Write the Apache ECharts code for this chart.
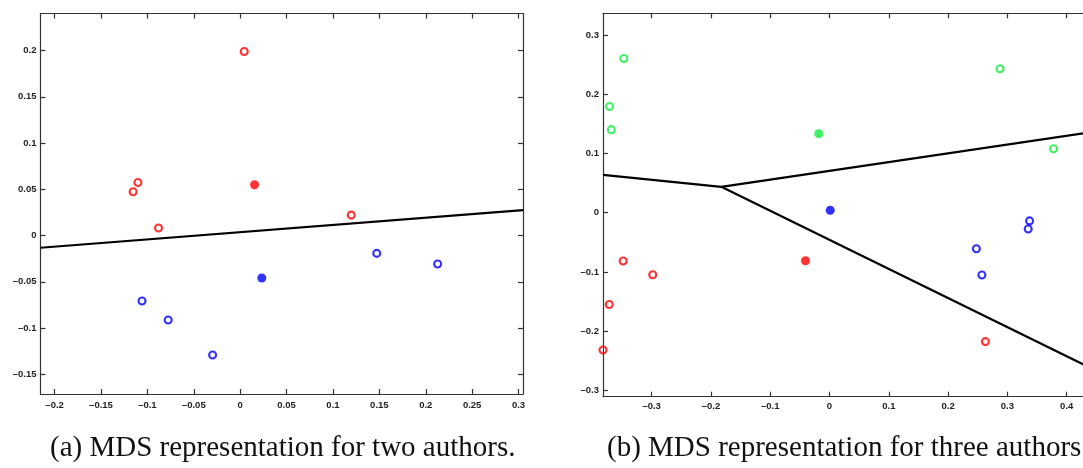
<!DOCTYPE html>
<html><head><meta charset="utf-8">
<script src="https://cdn.jsdelivr.net/npm/echarts@6/dist/echarts.min.js"></script>
<style>html,body{margin:0;padding:0;background:#fff}#c{width:1083px;height:468px}</style>
</head><body><div id="c"></div>
<script>
// ---------- Panel (a): two authors ----------
const aRedOpen = [[0.0044,0.1989],[-0.1102,0.0574],[-0.1154,0.0473],[-0.0880,0.0081],[0.1197,0.0221]];
const aRedCenter = [[0.0155,0.0549]];
const aBlueOpen = [[0.1472,-0.0193],[0.2128,-0.0308],[-0.1058,-0.0708],[-0.0776,-0.0913],[-0.0297,-0.1291]];
const aBlueCenter = [[0.0233,-0.0459]];
const aBoundary = [[-0.2152,-0.0132],[0.3048,0.0275]];
const aXRange = [-0.2152, 0.3048];
const aYRange = [-0.1713, 0.2400];
const aXTicks = [-0.2,-0.15,-0.1,-0.05,0,0.05,0.1,0.15,0.2,0.25,0.3];
const aYTicks = [-0.15,-0.1,-0.05,0,0.05,0.1,0.15,0.2];
// ---------- Panel (b): three authors ----------
const bGreenOpen = [[-0.3468,0.2604],[-0.3709,0.1792],[-0.3680,0.1402],[0.2876,0.2429],[0.3779,0.1081]];
const bGreenCenter = [[-0.0182,0.1335]];
const bBlueOpen = [[0.3374,-0.0138],[0.3351,-0.0274],[0.2477,-0.0607],[0.2570,-0.1052]];
const bBlueCenter = [[0.0012,0.0042]];
const bRedOpen = [[-0.3480,-0.0815],[-0.2981,-0.1046],[-0.3715,-0.1549],[-0.3820,-0.2317],[0.2629,-0.2175]];
const bRedCenter = [[-0.0405,-0.0810]];
const bBoundaryLeft = [[-0.3820,0.0640],[-0.1825,0.0437]];
const bBoundaryUpper = [[-0.1825,0.0437],[0.5,0.1447]];
const bBoundaryLower = [[-0.1825,0.0437],[0.5,-0.2914]];
const bXRange = [-0.3820, 0.5];
const bYRange = [-0.3105, 0.3366];
const bXTicks = [-0.3,-0.2,-0.1,0,0.1,0.2,0.3,0.4,0.5];
const bYTicks = [-0.3,-0.2,-0.1,0,0.1,0.2,0.3];
// ---------- Captions ----------
const captionA = '(a) MDS representation for two authors.';
const captionB = '(b) MDS representation for three authors.';

const RED = '#ff0000', BLUE = '#0000ff', GREEN = '#10ee40';

function fmt(v){ const r = Math.round(v*1000)/1000; return r < 0 ? '\u2013' + String(-r) : String(r); }
const labelStyle = { fontSize: 9.5, fontWeight: 'bold', color: '#222', fontFamily: 'Liberation Sans, Arial, sans-serif' };
const lineStyle = { color: '#333', width: 1.2 };

function xAxes(grid, range, ticks, margin){
  return [
    { type:'value', gridIndex:grid, position:'bottom', min:range[0], max:range[1],
      axisLine:{show:true, onZero:false, lineStyle}, splitLine:{show:false},
      axisTick:{show:true, inside:true, length:5, customValues:ticks, lineStyle},
      axisLabel:Object.assign({show:true, margin, customValues:ticks, formatter:fmt, showMinLabel:true, showMaxLabel:true}, labelStyle) },
    { type:'value', gridIndex:grid, position:'top', min:range[0], max:range[1],
      axisLine:{show:true, onZero:false, lineStyle}, splitLine:{show:false},
      axisTick:{show:true, inside:true, length:5, customValues:ticks, lineStyle},
      axisLabel:{show:false} }
  ];
}
function yAxes(grid, range, ticks, margin){
  return [
    { type:'value', gridIndex:grid, position:'left', min:range[0], max:range[1],
      axisLine:{show:true, onZero:false, lineStyle}, splitLine:{show:false},
      axisTick:{show:true, inside:true, length:5, customValues:ticks, lineStyle},
      axisLabel:Object.assign({show:true, margin, customValues:ticks, formatter:fmt}, labelStyle) },
    { type:'value', gridIndex:grid, position:'right', min:range[0], max:range[1],
      axisLine:{show:true, onZero:false, lineStyle}, splitLine:{show:false},
      axisTick:{show:true, inside:true, length:5, customValues:ticks, lineStyle},
      axisLabel:{show:false} }
  ];
}

function openPts(data, color, xi, yi){
  return { type:'scatter', data, xAxisIndex:xi, yAxisIndex:yi, symbol:'circle', symbolSize:7,
    itemStyle:{ color:'rgba(255,255,255,0)', borderColor:color, borderWidth:2.1 }, clip:false, z:3 };
}
function filledPts(data, color, xi, yi){
  return { type:'scatter', data, xAxisIndex:xi, yAxisIndex:yi, symbol:'circle', symbolSize:9,
    itemStyle:{ color, borderWidth:0 }, clip:false, z:3 };
}
function boundary(data, xi, yi){
  return { type:'line', data, xAxisIndex:xi, yAxisIndex:yi, showSymbol:false, symbol:'none',
    lineStyle:{ color:'#000', width:2.2 }, z:2, silent:true };
}

const chart = echarts.init(document.getElementById('c'), null, {renderer:'canvas'});
chart.setOption({
  animation:false,
  backgroundColor:'#fff',
  grid:[
    { left:40.5, top:13.5, width:482.5, height:380.5, containLabel:false, outerBoundsMode:'none' },
    { left:603, top:13.3, width:523, height:383.4, containLabel:false, outerBoundsMode:'none' }
  ],
  xAxis:[...xAxes(0, aXRange, aXTicks, 6), ...xAxes(1, bXRange, bXTicks, 5)],
  yAxis:[...yAxes(0, aYRange, aYTicks, 4), ...yAxes(1, bYRange, bYTicks, 4)],
  series:[
    boundary(aBoundary, 0, 0),
    openPts(aRedOpen, RED, 0, 0),
    filledPts(aRedCenter, RED, 0, 0),
    openPts(aBlueOpen, BLUE, 0, 0),
    filledPts(aBlueCenter, BLUE, 0, 0),
    boundary(bBoundaryLeft, 2, 2),
    boundary(bBoundaryUpper, 2, 2),
    boundary(bBoundaryLower, 2, 2),
    openPts(bGreenOpen, GREEN, 2, 2),
    filledPts(bGreenCenter, GREEN, 2, 2),
    openPts(bBlueOpen, BLUE, 2, 2),
    filledPts(bBlueCenter, BLUE, 2, 2),
    openPts(bRedOpen, RED, 2, 2),
    filledPts(bRedCenter, RED, 2, 2)
  ],
  graphic:[
    { type:'text', left:50, top:434, style:{ text:captionA, font:'29px "Liberation Serif", "Times New Roman", serif', fill:'#111' } },
    { type:'text', left:607, top:434, style:{ text:captionB, font:'29px "Liberation Serif", "Times New Roman", serif', fill:'#111' } }
  ]
});
</script></body></html>
